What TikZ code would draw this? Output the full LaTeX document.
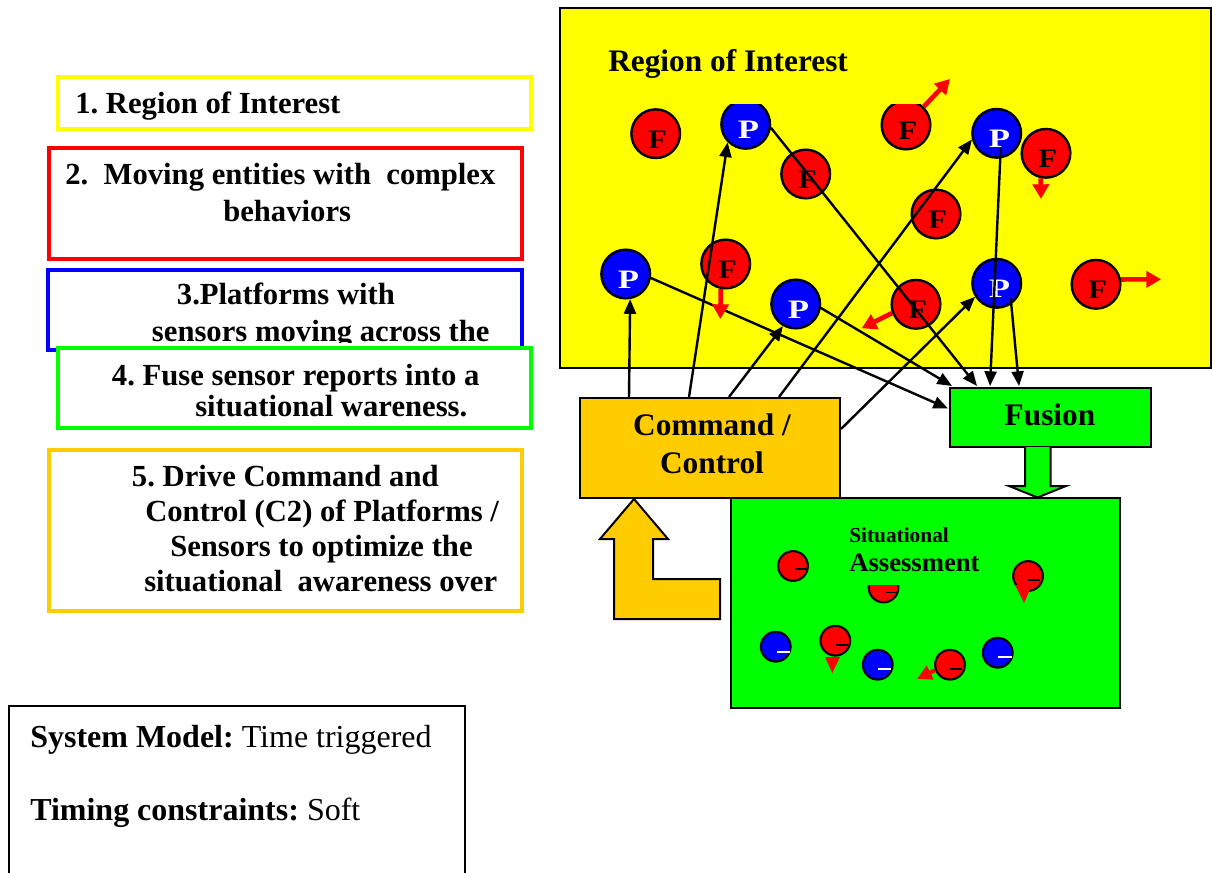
\documentclass[tikz,border=0pt]{standalone}
\usepackage{fontspec}
\setmainfont{Liberation Serif}
\usetikzlibrary{arrows.meta,calc}
\definecolor{roiyellow}{RGB}{255,255,0}
\definecolor{entred}{RGB}{255,0,0}
\definecolor{platblue}{RGB}{0,0,255}
\definecolor{fusegreen}{RGB}{0,255,0}
\definecolor{ccorange}{RGB}{255,204,0}
\frenchspacing
\begin{document}
\begin{tikzpicture}[x=0.75pt,y=-0.75pt,
  conn/.style={line width=1.8pt,-{Triangle[length=11pt,width=9pt]}},
  motion/.style={draw=entred,line width=3.5pt,-{Triangle[length=11pt,width=12pt]}},
  ent/.style={circle,draw=black,line width=1.8pt,fill=entred,minimum size=36.5pt,inner sep=0pt},
  plat/.style={ent,fill=platblue},
  saent/.style={circle,draw=black,line width=1.6pt,fill=entred,minimum size=22.3pt,inner sep=0pt},
  sablue/.style={saent,fill=platblue},
  ftxt/.style={font=\fontsize{20}{20}\selectfont\bfseries,text=black,inner sep=0pt,xshift=2pt,yshift=-4.5pt},
  ptxt/.style={font=\fontsize{20}{20}\selectfont\bfseries,text=white,inner sep=0pt,xshift=2pt,yshift=-4pt},
  lbox/.style={line width=3pt,fill=white},
  bigtxt/.style={font=\fontsize{23}{27}\selectfont\bfseries,inner sep=0pt,anchor=base west},
  ctxt/.style={font=\fontsize{23.5}{27}\selectfont\bfseries,inner sep=0pt,anchor=base},
  blk/.style={draw=black,line width=1.5pt,inner sep=0pt}
]
\useasboundingbox (0,0) rectangle (1212,873);

% ---------------- left legend boxes ----------------
\draw[lbox,draw=roiyellow] (58,77) rectangle (531,129);
\node[bigtxt] (t1) at (75,114) {1. Region of Interest};

\draw[lbox,draw=entred] (49,148) rectangle (521.5,259);
\node[bigtxt] (t2a) at (65,185) {2.\ \ Moving entities with\ \ complex};
\node[bigtxt] (t2b) at (223,221.7) {behaviors};

\draw[lbox,draw=platblue] (48,270) rectangle (521.5,350);
\node[bigtxt] (t3a) at (176.7,305) {3.Platforms with};
\begin{scope}
  \clip (48,270) rectangle (521.5,342);
  \node[bigtxt] (t3b) at (151.7,341) {sensors moving across the};
\end{scope}

\draw[lbox,draw=fusegreen] (58,348) rectangle (531,428);
\node[bigtxt] (t4a) at (111.7,385) {4. Fuse sensor reports into a};
\node[bigtxt] (t4b) at (195,416.7) {situational wareness.};

\draw[lbox,draw=ccorange] (49,450) rectangle (521.5,611);
\node[bigtxt] (t5a) at (131.7,486.7) {5. Drive Command and};
\node[bigtxt] (t5b) at (145,521.7) {Control (C2) of Platforms /};
\node[bigtxt] (t5c) at (170,556.7) {Sensors to optimize the};
\node[bigtxt] (t5d) at (144,591.7) {situational\ \ awareness over};

% ---------------- system model box ----------------
\draw[line width=1.5pt] (9,873) -- (9,706) -- (465,706) -- (465,873);
\node[font=\fontsize{24}{28}\selectfont,inner sep=0pt,anchor=base west] (sm1) at (30,747) {\textbf{System Model:} Time triggered};
\node[font=\fontsize{24}{28}\selectfont,inner sep=0pt,anchor=base west] (sm2) at (30,820) {\textbf{Timing constraints:} Soft};

% ---------------- region of interest ----------------
\draw[line width=1.5pt,fill=roiyellow] (560,8) rectangle (1211,368);
\node[font=\fontsize{23.5}{27}\selectfont\bfseries,inner sep=0pt,anchor=base west] (roit) at (608,72) {Region of Interest};

\node[ent,label={[ftxt]center:\scalebox{1.15}[1]{F}{\fontsize{5}{5}\selectfont.}}] (f1) at (655.7,133.7) {};
\begin{scope}
  \clip (560,105) rectangle (1211,368);
  \node[plat,label={[ptxt]center:\scalebox{1.3}[1]{P}}] (p1) at (745.7,124.3) {};
  \node[ent,label={[ftxt]center:\scalebox{1.15}[1]{F}{\fontsize{5}{5}\selectfont.}}] (f4) at (906,125) {};
\end{scope}
\node[ent,label={[ftxt]center:\scalebox{1.15}[1]{F}{\fontsize{5}{5}\selectfont.}}] (f2) at (805.7,174) {};
\node[plat,label={[ptxt]center:\scalebox{1.3}[1]{P}}] (p2) at (625.7,274) {};
\node[ent,label={[ftxt]center:\scalebox{1.15}[1]{F}{\fontsize{5}{5}\selectfont.}}] (f3) at (725.7,264) {};
\node[plat,label={[ptxt]center:\scalebox{1.3}[1]{P}}] (p3) at (795.7,304) {};
\node[plat,label={[ptxt]center:\scalebox{1.3}[1]{P}}] (p4) at (996.7,133.3) {};
\node[ent,label={[ftxt]center:\scalebox{1.15}[1]{F}{\fontsize{5}{5}\selectfont.}}] (f5) at (1046,153.3) {};
\node[ent,label={[ftxt]center:\scalebox{1.15}[1]{F}{\fontsize{5}{5}\selectfont.}}] (f6) at (936,214) {};
\node[plat,label={[ptxt]center:\scalebox{1.3}[1]{P}}] (p5) at (996.7,283.3) {};
\node[ent,label={[ftxt]center:\scalebox{1.15}[1]{F}{\fontsize{5}{5}\selectfont.}}] (f7) at (1096,284.3) {};
\node[ent,label={[ftxt]center:\scalebox{1.15}[1]{F}{\fontsize{5}{5}\selectfont.}}] (f8) at (916,304.3) {};

% ---------------- command / control and fusion ----------------
\node[blk,fill=ccorange,minimum width=195pt,minimum height=75pt] (cmd) at (710,448) {};
\node[ctxt] (cmdt1) at (712,435) {Command /};
\node[ctxt] (cmdt2) at (712,473) {Control};

\node[blk,fill=fusegreen,minimum width=150.75pt,minimum height=44.25pt] (fusion) at (1050.5,417.5) {};
\node[ctxt] (fust) at (1050,425) {Fusion};

% ---------------- connectors ----------------
\draw[conn] ($(cmd.north west)+(50,0)$) -- (p2.280);
\draw[conn] ($(cmd.north west)+(110,0)$) -- (p1.225);
\draw[conn] ($(cmd.north west)+(150,0)$) -- (p3.240);
\draw[conn] ($(cmd.north west)+(200,0)$) -- (p4.194);
\draw[conn] ($(cmd.north east)+(0,32)$) -- (p5.212);

\draw[conn] (p1.352) -- ($(fusion.north west)+(28,-1)$);
\draw[conn] (p2.351) -- ($(fusion.west)+(-1,-9)$);
\draw[conn] (p3.351) -- ($(fusion.north west)+(3,-1)$);
\draw[conn] ($(p4.center)+(4,15)$) -- ($(fusion.north west)+(41,-1)$);
\draw[conn] ($(p5.center)+(14,15)$) -- ($(fusion.north west)+(70,-1)$);

% ---------------- motion vectors ----------------
\coordinate (m4) at (950,79);
\coordinate (m5) at (1041,199);
\coordinate (m7) at (1161,279.3);
\coordinate (m8) at (861.7,328.3);
\coordinate (m3) at (720.3,319);
\draw[motion] (f4.46) -- (m4);
\draw[motion] (f5.258) -- (m5);
\draw[motion] (f7.11) -- (m7);
\draw[motion] (f8.200) -- (m8);
\draw[motion] (f3.259) -- (m3);

% ---------------- situational assessment ----------------
\node[blk,fill=fusegreen,minimum width=291.75pt,minimum height=157.5pt] (sa) at (925.5,603) {};
\node[font=\fontsize{16}{18}\selectfont\bfseries,inner sep=0pt,anchor=base west] (sat1) at (849,542) {Situational};
\node[font=\fontsize{20}{22}\selectfont\bfseries,inner sep=0pt,anchor=base west] (sat2) at (849,571) {Assessment};

% green block arrow fusion -> assessment
\draw[line width=1.5pt,fill=fusegreen,line join=miter]
  (1025,447) -- (1025,486) -- (1009,486) -- (1037.5,497.5) -- (1066,486) -- (1050.5,486) -- (1050.5,447);

% orange L arrow back to command
\draw[line width=1.5pt,fill=ccorange,line join=miter]
  (634,499) -- (668,539) -- (653,539) -- (653,579) -- (720,579) -- (720,619)
  -- (614,619) -- (614,539) -- (600,539) -- cycle;

% entities in assessment
\node[saent] (s1) at (793,566) {};
\begin{scope}
  \clip (731,585) rectangle (1120,708);
  \node[saent] (s2) at (883.5,587.5) {};
\end{scope}
\node[saent] (s3) at (1028,576) {};
\node[sablue] (s4) at (775.7,646.7) {};
\node[saent] (s5) at (835.3,640.7) {};
\node[sablue] (s6) at (877.7,664.7) {};
\node[saent] (s7) at (950,664.7) {};
\node[sablue] (s8) at (997.7,652.7) {};

\draw[black,line width=1.2pt] ($(s1.center)+(2,3)$) -- ++(12,0);
\draw[black,line width=1.2pt] ($(s2.center)+(2,5)$) -- ++(12,0);
\draw[black,line width=1.2pt] ($(s3.center)+(0,4)$) -- ++(12,0);
\draw[white,line width=1.2pt] ($(s4.center)+(1,5)$) -- ++(13,0);
\draw[black,line width=1.2pt] ($(s5.center)+(1,4)$) -- ++(12,0);
\draw[white,line width=1.2pt] ($(s6.center)+(0,4)$) -- ++(13,0);
\draw[black,line width=1.2pt] ($(s7.center)+(0,4)$) -- ++(12,0);
\draw[white,line width=1.2pt] ($(s8.center)+(0,4)$) -- ++(14,0);

\fill[entred] (1015,585) -- (1032,585) -- (1024,603) -- cycle;
\fill[entred] (825,657) -- (840,657) -- (832.3,673) -- cycle;
\coordinate (m7sa) at (917,679);
\draw[draw=entred,line width=3pt,-{Triangle[length=11pt,width=11pt]}] (s7.200) -- (m7sa);
\end{tikzpicture}
\end{document}
